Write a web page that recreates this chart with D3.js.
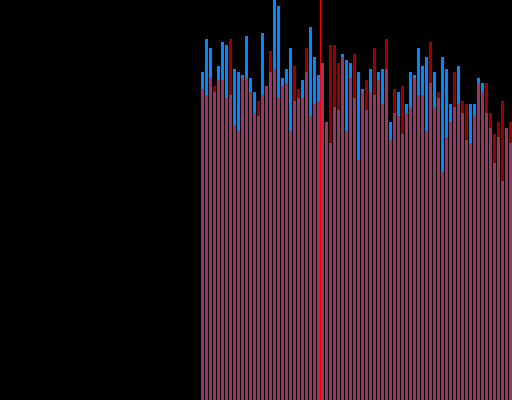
<!DOCTYPE html>
<html>
<head>
<meta charset="utf-8">
<script src="https://cdn.jsdelivr.net/npm/d3@7"></script>
<style>
  html, body { margin: 0; padding: 0; background: #000; }
  svg { display: block; }
</style>
</head>
<body>
<script>
const blueValues = [328,361,352,308,334,358,355,305,331,328,325,364,322,308,284,367,314,328,400,394,
  322,331,352,299,302,320,328,373,343,325,337,278,257,293,290,346,340,337,302,328,
  311,290,331,305,328,331,331,278,287,308,266,296,328,325,352,334,343,317,328,302,
  343,331,296,293,334,287,260,296,296,322,317,287,272,237,263,219,272,257];
const redValues = [311,305,322,314,320,320,302,361,275,269,322,322,308,287,299,305,314,349,331,302,
  314,317,269,334,311,302,352,284,296,299,337,278,355,355,337,343,269,322,346,240,
  308,320,308,352,320,296,361,260,311,284,314,287,293,322,305,305,269,358,293,308,
  228,263,278,328,296,299,296,257,284,317,308,317,287,266,278,299,272,278];
const categories = blueValues.map((_, i) => i);
const markerIndex = 30;

const W = 512, H = 400;
const svg = d3.select("body").append("svg").attr("width", W).attr("height", H);
svg.append("rect").attr("width", W).attr("height", H).attr("fill", "#000");

const x = d3.scaleBand().domain(categories).range([200.5, 512.5])
  .paddingInner(0.25).paddingOuter(0.125);
const y = d3.scaleLinear().domain([0, 400]).range([H, 0]);

const g = svg.append("g").attr("shape-rendering", "crispEdges");

g.selectAll("rect.blue").data(blueValues).join("rect")
  .attr("class", "blue")
  .attr("x", (d, i) => x(i))
  .attr("width", x.bandwidth())
  .attr("y", d => y(d))
  .attr("height", d => y(0) - y(d))
  .attr("fill", "#0088ff");

g.selectAll("rect.red").data(redValues).join("rect")
  .attr("class", "red")
  .attr("x", (d, i) => x(i))
  .attr("width", x.bandwidth())
  .attr("y", d => y(d))
  .attr("height", d => y(0) - y(d))
  .attr("fill", "#ff0000")
  .attr("fill-opacity", 0.6);

const lx = x(markerIndex) - (x.step() - x.bandwidth()) / 2;
svg.append("line")
  .attr("x1", lx).attr("x2", lx)
  .attr("y1", 0).attr("y2", H)
  .attr("stroke", "#ff0000")
  .attr("stroke-width", 1);
</script>
</body>
</html>
